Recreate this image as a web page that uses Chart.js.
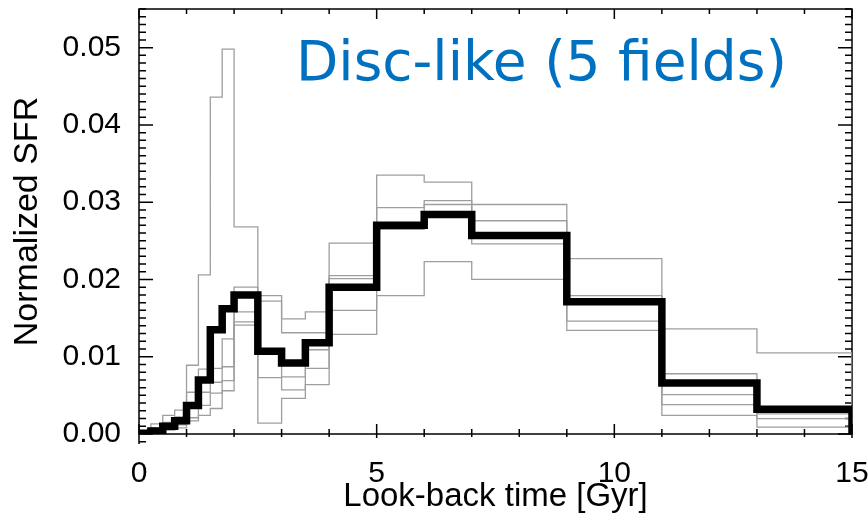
<!DOCTYPE html>
<html>
<head>
<meta charset="utf-8">
<script src="https://cdn.jsdelivr.net/npm/chart.js@4.4.0/dist/chart.umd.js"></script>
<style>
  html, body { margin: 0; padding: 0; background: #fff; }
  #wrap { width: 868px; height: 522px; }
</style>
</head>
<body>
<div id="wrap"><canvas id="chart" width="868" height="522"></canvas></div>
<script>
// histogram bin edges, look-back time [Gyr]
const binEdges = [0, 0.25, 0.5, 0.75, 1, 1.25, 1.5, 1.75, 2, 2.5, 3, 3.5, 4, 5, 6, 7, 9, 11, 13, 15];

// mean SFR of the disc-like fields (one value per bin)
const meanSfr = [0.0001, 0.0004, 0.0010, 0.0017, 0.0037, 0.0070, 0.0135, 0.0162, 0.0180, 0.0107, 0.0092, 0.0118, 0.0190, 0.0270, 0.0284, 0.0257, 0.0171, 0.0066, 0.0032];

// individual fields
const field1 = [0.0004, 0.0013, 0.0024, 0.0031, 0.0089, 0.0206, 0.0436, 0.0498, 0.0268, 0.0179, 0.0149, 0.0158, 0.0247, 0.0335, 0.0326, 0.0297, 0.0227, 0.0136, 0.0105];
const field2 = [0.0003, 0.0008, 0.0015, 0.0022, 0.0054, 0.0084, 0.0085, 0.0123, 0.0190, 0.0172, 0.0131, 0.0131, 0.0205, 0.0293, 0.0302, 0.0276, 0.0179, 0.0078, 0.0033];
const field3 = [0.0002, 0.0005, 0.0010, 0.0016, 0.0036, 0.0054, 0.0067, 0.0087, 0.0158, 0.0105, 0.0074, 0.0109, 0.0201, 0.0272, 0.0297, 0.0258, 0.0170, 0.0051, 0.0026];
const field4 = [0.0001, 0.0003, 0.0007, 0.0012, 0.0021, 0.0037, 0.0053, 0.0069, 0.0145, 0.0073, 0.0057, 0.0085, 0.0160, 0.0265, 0.0282, 0.0246, 0.0146, 0.0038, 0.0020];
const field5 = [0.0000, 0.0002, 0.0005, 0.0008, 0.0017, 0.0024, 0.0033, 0.0056, 0.0141, 0.0014, 0.0046, 0.0064, 0.0129, 0.0179, 0.0223, 0.0200, 0.0134, 0.0024, 0.0009];

const xTicks = [0, 5, 10, 15];
const yTicks = [0, 0.01, 0.02, 0.03, 0.04, 0.05];

// step outline: left edge of every bin, then close the last bin down to zero
const stepPoints = vals => {
  const pts = vals.map((v, i) => ({x: binEdges[i], y: v}));
  const last = binEdges[binEdges.length - 1];
  pts.push({x: last, y: vals[vals.length - 1]});
  pts.push({x: last, y: 0});
  return pts;
};

const grayLine = vals => ({
  data: stepPoints(vals),
  stepped: 'before',
  borderColor: '#9e9e9e',
  borderWidth: 1.3,
  pointRadius: 0,
  fill: false,
  order: 1,
});

// IDL-style frame: box with inward ticks on all four sides
const frameTicks = {
  id: 'frameTicks',
  beforeDatasetsDraw(chart) {
    const {ctx, chartArea: a, scales: {x, y}} = chart;
    ctx.save();
    ctx.strokeStyle = '#000';
    ctx.lineWidth = 1.5;
    ctx.strokeRect(a.left, a.top, a.right - a.left, a.bottom - a.top);
    ctx.beginPath();
    // left axis runs a little below zero
    ctx.moveTo(a.left, a.bottom); ctx.lineTo(a.left, a.bottom + 10);
    for (let t = 0; t <= 15; t++) {
      const px = x.getPixelForValue(t);
      const major = t % 5 === 0;
      ctx.moveTo(px, a.bottom + (major ? 4 : 3)); ctx.lineTo(px, a.bottom - (major ? 10 : 5));
      ctx.moveTo(px, a.top); ctx.lineTo(px, a.top + (major ? 10 : 5));
    }
    for (let i = -1; i <= 55; i++) {
      const py = y.getPixelForValue(i / 1000);
      const len = i % 10 === 0 ? 14 : 7;
      ctx.moveTo(a.left, py); ctx.lineTo(a.left + len, py);
      if (i >= 0) { ctx.moveTo(a.right, py); ctx.lineTo(a.right - len, py); }
    }
    ctx.stroke();
    ctx.restore();
  },
  afterDraw(chart) {
    const {ctx} = chart;
    ctx.save();
    ctx.fillStyle = '#0070C0';
    ctx.font = '55px "DejaVu Sans"';
    ctx.textBaseline = 'alphabetic';
    ctx.fillText('Disc-like (5 fields)', 296, 80);
    ctx.restore();
  },
};

const tickFont = {family: '"Liberation Sans", Arial, sans-serif', size: 30};
const titleFont = {family: '"Liberation Sans", Arial, sans-serif', size: 33};

// keep the plot box fixed; labels may hang over the edges
const noOverhang = s => {
  s.paddingLeft = 0; s.paddingRight = 0;
  s.paddingTop = 0; s.paddingBottom = 0;
};

new Chart(document.getElementById('chart'), {
  type: 'line',
  data: {
    datasets: [
      {
        data: stepPoints(meanSfr),
        stepped: 'before',
        borderColor: '#000',
        borderWidth: 7.5,
        borderJoinStyle: 'miter',
        borderCapStyle: 'butt',
        pointRadius: 0,
        fill: false,
        order: 0,
      },
      grayLine(field1),
      grayLine(field2),
      grayLine(field3),
      grayLine(field4),
      grayLine(field5),
    ],
  },
  options: {
    responsive: false,
    animation: false,
    layout: {padding: {left: 0, right: 16, top: 9, bottom: 0}},
    plugins: {legend: {display: false}, tooltip: {enabled: false}},
    scales: {
      x: {
        type: 'linear',
        min: 0,
        max: 15,
        grid: {display: false},
        border: {display: false},
        afterBuildTicks: s => { s.ticks = xTicks.map(v => ({value: v})); },
        afterFit: s => { s.height = 88; noOverhang(s); },
        ticks: {font: tickFont, color: '#000', padding: 14, maxRotation: 0, autoSkip: false, callback: v => String(v)},
        title: {display: true, text: 'Look-back time [Gyr]', font: titleFont, color: '#000', padding: {top: 0, bottom: 5}},
      },
      y: {
        type: 'linear',
        min: 0,
        max: 0.055,
        grid: {display: false},
        border: {display: false},
        afterBuildTicks: s => { s.ticks = yTicks.map(v => ({value: v})); },
        afterFit: s => { s.width = 139; noOverhang(s); },
        ticks: {font: tickFont, color: '#000', padding: 10, autoSkip: false, callback: v => v.toFixed(2)},
        title: {display: true, text: 'Normalized SFR', font: {family: titleFont.family, size: 34}, color: '#000', padding: {top: 7, bottom: 0}},
      },
    },
  },
  plugins: [frameTicks],
});
</script>
</body>
</html>
